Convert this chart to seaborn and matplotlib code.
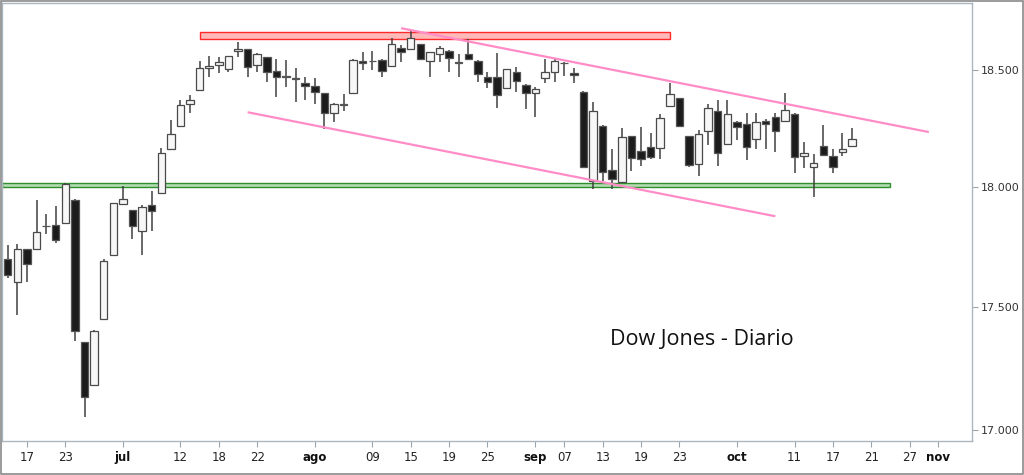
import numpy as np
import pandas as pd
import matplotlib
matplotlib.use("Agg")
import matplotlib.pyplot as plt
from matplotlib.patches import Rectangle
from matplotlib.ticker import FixedLocator, FixedFormatter, NullLocator
import seaborn as sns

# ---------------- data (Dow Jones daily) ----------------
start_date = "2016-06-15"
end_date = "2016-11-01"
holidays = ["2016-07-04", "2016-09-05"]

opens = [17696, 17602, 17737, 17738, 17836, 17840, 17847, 17944, 17355, 17181, 17449, 17714,
         17925, 17901, 17812, 17923, 17973, 18159, 18257, 18354, 18413, 18507, 18522, 18503,
         18581, 18590, 18522, 18554, 18496, 18473, 18463, 18442, 18432, 18399, 18313, 18351,
         18399, 18540, 18540, 18544, 18519, 18594, 18591, 18613, 18539, 18568, 18584, 18533,
         18570, 18539, 18471, 18468, 18421, 18490, 18435, 18399, 18464, 18493, 18530, 18488,
         18406, 18023, 18260, 18070, 18021, 18213, 18153, 18170, 18162, 18342, 18378, 18213,
         18096, 18237, 18323, 18181, 18277, 18266, 18201, 18281, 18295, 18280, 18309, 18128,
         18085, 18174, 18131, 18145, 18174]
highs = [17755, 17760, 17740, 17944, 17886, 17918, 18015, 17946, 17356, 17403, 17697, 17931,
         18002, 17903, 17923, 17983, 18162, 18284, 18370, 18392, 18540, 18561, 18555, 18562,
         18623, 18592, 18572, 18556, 18548, 18544, 18507, 18468, 18464, 18401, 18355, 18396,
         18546, 18580, 18584, 18546, 18638, 18609, 18672, 18615, 18578, 18604, 18586, 18570,
         18634, 18541, 18493, 18573, 18505, 18514, 18437, 18428, 18547, 18547, 18536, 18510,
         18408, 18359, 18262, 18159, 18249, 18215, 18253, 18227, 18310, 18445, 18380, 18215,
         18239, 18351, 18368, 18370, 18280, 18312, 18315, 18287, 18315, 18399, 18313, 18191,
         18139, 18262, 18159, 18227, 18249]
lows = [17618, 17467, 17602, 17736, 17801, 17765, 17845, 17357, 17050, 17180, 17447, 17710,
        17923, 17779, 17714, 17814, 17971, 18156, 18255, 18313, 18411, 18471, 18486, 18493,
        18555, 18468, 18490, 18449, 18384, 18428, 18363, 18370, 18353, 18245, 18277, 18322,
        18397, 18500, 18500, 18471, 18517, 18536, 18589, 18545, 18468, 18533, 18490, 18468,
        18545, 18447, 18421, 18335, 18419, 18406, 18331, 18296, 18442, 18447, 18475, 18442,
        18082, 17989, 18023, 17990, 18014, 18066, 18087, 18116, 18116, 18340, 18253, 18085,
        18045, 18177, 18087, 18180, 18198, 18113, 18159, 18159, 18148, 18278, 18058, 18078,
        17955, 18132, 18056, 18128, 18166]
closes = [17632, 17737, 17677, 17809, 17833, 17776, 18011, 17400, 17131, 17401, 17688, 17929,
          17947, 17834, 17913, 17895, 18143, 18224, 18347, 18370, 18507, 18517, 18535, 18561,
          18593, 18514, 18570, 18490, 18471, 18470, 18460, 18432, 18406, 18313, 18353, 18348,
          18544, 18529, 18537, 18496, 18613, 18579, 18638, 18548, 18576, 18597, 18551, 18531,
          18547, 18481, 18447, 18392, 18503, 18453, 18402, 18416, 18490, 18539, 18528, 18478,
          18084, 18323, 18063, 18032, 18211, 18120, 18116, 18127, 18291, 18395, 18260, 18092,
          18224, 18337, 18142, 18308, 18253, 18167, 18277, 18267, 18237, 18327, 18125, 18142,
          18099, 18134, 18082, 18159, 18202]

tick_dates = ["2016-06-17", "2016-06-23", "2016-07-01", "2016-07-12", "2016-07-18", "2016-07-22",
              "2016-08-01", "2016-08-09", "2016-08-15", "2016-08-19", "2016-08-25", "2016-09-01",
              "2016-09-07", "2016-09-13", "2016-09-19", "2016-09-23", "2016-10-03", "2016-10-11",
              "2016-10-17", "2016-10-21", "2016-10-27", "2016-11-01"]
tick_labels = ["17", "23", "jul", "12", "18", "22", "ago", "09", "15", "19", "25", "sep",
               "07", "13", "19", "23", "oct", "11", "17", "21", "27", "nov"]
month_labels = ["jul", "ago", "sep", "oct", "nov"]

y_ticks = [17000, 17500, 18000, 18500]
y_tick_labels = ["17.000", "17.500", "18.000", "18.500"]

# annotation levels (trading-day dates / index levels)
resistance_band = ("2016-07-14", "2016-09-22", 18634, 18667)
support_band_end = "2016-10-25"
support_band = (17997, 18017)
upper_channel = (("2016-08-12", 18682), ("2016-10-31", 18232))
lower_channel = (("2016-07-21", 18317), ("2016-10-07", 17875))
title_text = "Dow Jones - Diario"

# ---------------- build positions on a trading-day axis ----------------
cal = pd.bdate_range(start_date, end_date)
cal = cal[~cal.isin(pd.to_datetime(holidays))]
pos = {d.strftime("%Y-%m-%d"): i for i, d in enumerate(cal)}

df = pd.DataFrame({"date": cal[:len(opens)], "open": opens, "high": highs,
                   "low": lows, "close": closes})
df["x"] = np.arange(len(df))
df["up"] = df["close"] >= df["open"]

# ---------------- plot ----------------
sns.set_theme(style="white")
plt.rcParams["font.family"] = ["DejaVu Sans"]

fig = plt.figure(figsize=(10.24, 4.75), dpi=100)
ax = fig.add_axes([2 / 1024, 34 / 475, 970 / 1024, 438 / 475])
ax.set_yscale("log")
ax.set_xlim(-0.6, 100.5)
ax.set_ylim(16956, 18793)

# support / resistance bands
x0 = pos[resistance_band[0]] + 0.03
x1 = pos[resistance_band[1]] + 0.04
ax.add_patch(Rectangle((x0, resistance_band[2]), x1 - x0, resistance_band[3] - resistance_band[2],
                       facecolor="#ffb9b9", edgecolor="#ff2a2a", linewidth=1.0, zorder=1))
gx1 = pos[support_band_end]
ax.add_patch(Rectangle((-0.6, support_band[0]), gx1 + 0.6, support_band[1] - support_band[0],
                       facecolor="#b3dcb3", edgecolor="#2f8f2f", linewidth=1.0, zorder=1))

# wicks
ax.vlines(df["x"], df["low"], df["high"], color="#404040", linewidth=1.1, zorder=2)

# bodies
body_bottom = np.minimum(df["open"], df["close"])
body_height = np.maximum(np.abs(df["close"] - df["open"]), 0.8)
faces = np.where(df["up"], "#f7f7f7", "#1c1c1c")
edges = np.where(df["up"], "#4a4a4a", "#555555")
ax.bar(df["x"], body_height, bottom=body_bottom, width=0.78, color=faces,
       edgecolor=edges, linewidth=0.9, zorder=3)

# channel lines
for (da, va), (db, vb) in (upper_channel, lower_channel):
    ax.plot([pos[da], pos[db]], [va, vb], color="#ff8cc6", linewidth=1.6, zorder=4,
            solid_capstyle="butt")

ax.text(62.8, 17365, title_text, fontsize=15.5, family=["Open Sans", "DejaVu Sans"],
        color="#111111", va="center", ha="left", zorder=5)

# axes styling
for s in ax.spines.values():
    s.set_color("#aab7c0")
    s.set_linewidth(1.0)

ax.yaxis.set_major_locator(FixedLocator(y_ticks))
ax.yaxis.set_major_formatter(FixedFormatter(y_tick_labels))
ax.yaxis.set_minor_locator(NullLocator())
ax.yaxis.tick_right()
ax.tick_params(axis="y", which="major", right=True, left=False, length=4, width=0.8,
               color="#9aa5ad", labelsize=8, labelcolor="#333333", pad=2)

xt = [pos[d] for d in tick_dates]
ax.set_xticks(xt)
ax.set_xticklabels(tick_labels)
ax.tick_params(axis="x", which="major", bottom=True, length=4, width=0.8,
               color="#9aa5ad", labelsize=8.5, labelcolor="#222222", pad=3)
for lab in ax.get_xticklabels():
    lab.set_family(["Liberation Sans Narrow", "DejaVu Sans"])
    if lab.get_text() in month_labels:
        lab.set_fontweight("bold")
        lab.set_color("#111111")
ax.grid(False)

fig.patches.append(Rectangle((0.0007, 0.0012), 0.9986, 0.9976, transform=fig.transFigure,
                             fill=False, edgecolor="#8a8a8a", linewidth=1.2))

fig.savefig("out.png", dpi=100)
